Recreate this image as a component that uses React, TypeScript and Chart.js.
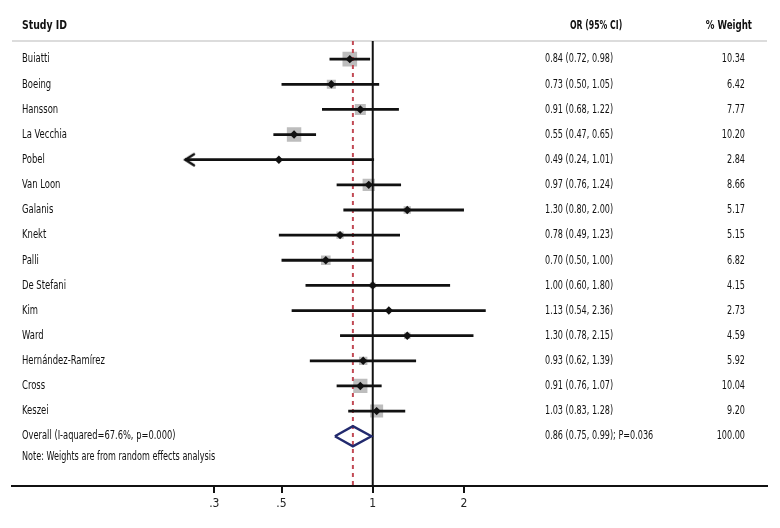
import React, { useEffect, useRef } from "react";
import { Chart, registerables } from "chart.js";

Chart.register(...registerables);

const studies = ["Buiatti", "Boeing", "Hansson", "La Vecchia", "Pobel", "Van Loon", "Galanis", "Knekt", "Palli", "De Stefani", "Kim", "Ward", "Hernández-Ramírez", "Cross", "Keszei"];
const orValues = [0.84, 0.73, 0.91, 0.55, 0.49, 0.97, 1.3, 0.78, 0.7, 1.0, 1.13, 1.3, 0.93, 0.91, 1.03];
const ciLow = [0.72, 0.5, 0.68, 0.47, 0.24, 0.76, 0.8, 0.49, 0.5, 0.6, 0.54, 0.78, 0.62, 0.76, 0.83];
const ciHigh = [0.98, 1.05, 1.22, 0.65, 1.01, 1.24, 2.0, 1.23, 1.0, 1.8, 2.36, 2.15, 1.39, 1.07, 1.28];
const weights = [10.34, 6.42, 7.77, 10.2, 2.84, 8.66, 5.17, 5.15, 6.82, 4.15, 2.73, 4.59, 5.92, 10.04, 9.2];

const overallLabel = "Overall (I-aquared=67.6%, p=0.000)";
const overallOR = 0.86;
const overallLow = 0.75;
const overallHigh = 0.99;
const overallP = "0.036";
const overallWeight = "100.00";
const noteText = "Note: Weights are from random effects analysis";

const headers = ["Study ID", "OR (95% CI)", "% Weight"];
const tickValues = [0.3, 0.5, 1, 2];
const tickLabels = [".3", ".5", "1", "2"];

const FONT_FAMILY = "'Liberation Sans Narrow', 'DejaVu Sans Condensed', 'Liberation Sans', sans-serif";

function makeArrow(): HTMLCanvasElement {
  const c = document.createElement("canvas");
  c.width = 22;
  c.height = 16;
  const g = c.getContext("2d")!;
  g.strokeStyle = "#111";
  g.lineWidth = 2.6;
  g.lineCap = "round";
  g.lineJoin = "miter";
  g.beginPath();
  g.moveTo(20, 2.5);
  g.lineTo(11.5, 8);
  g.lineTo(20, 13.5);
  g.stroke();
  return c;
}

function drawText(ctx: CanvasRenderingContext2D, text: string, x: number, y: number, align: CanvasTextAlign, bold: boolean, sx: number) {
  ctx.save();
  ctx.translate(x, y);
  ctx.scale(sx, 1);
  ctx.font = `${bold ? "bold " : ""}12.5px ${FONT_FAMILY}`;
  ctx.fillStyle = "#111";
  ctx.textAlign = align;
  ctx.textBaseline = "middle";
  ctx.fillText(text, 0, 0);
  ctx.restore();
}

export default function App() {
  const ref = useRef<HTMLCanvasElement | null>(null);

  useEffect(() => {
    if (!ref.current) return;
    const n = studies.length;
    const overallRow = n;
    const headerRow = -1.33;
    const headerLineRow = -0.72;
    const noteRow = n + 0.8;
    const yMin = -1.942;
    const yMax = 16.98;
    const arrowImg = makeArrow();
    const minTick = Math.min(...tickValues);

    const ciData: any[] = [];
    studies.forEach((_, i) => {
      ciData.push({ x: ciLow[i], y: i });
      ciData.push({ x: ciHigh[i], y: i });
      ciData.push({ x: null, y: null });
    });
    const arrowData = studies
      .map((_, i) => ({ x: ciLow[i], y: i }))
      .filter((p) => p.x < minTick);
    const pointData = studies.map((_, i) => ({ x: orValues[i], y: i }));
    const dh = 0.4;
    const diamond = [
      { x: overallLow, y: overallRow },
      { x: overallOR, y: overallRow - dh },
      { x: overallHigh, y: overallRow },
      { x: overallOR, y: overallRow + dh },
      { x: overallLow, y: overallRow },
    ];

    const textPlugin = {
      id: "forestText",
      beforeDatasetsDraw(chart: any) {
        const ctx = chart.ctx as CanvasRenderingContext2D;
        const ys = chart.scales.y;
        const area = chart.chartArea;
        const hy = ys.getPixelForValue(headerLineRow);
        ctx.save();
        ctx.strokeStyle = "#d0d0d0";
        ctx.lineWidth = 1.5;
        ctx.beginPath();
        ctx.moveTo(area.left, hy);
        ctx.lineTo(area.right, hy);
        ctx.stroke();
        ctx.restore();
      },
      afterDraw(chart: any) {
        const ctx = chart.ctx as CanvasRenderingContext2D;
        const ys = chart.scales.y;
        const hY = ys.getPixelForValue(headerRow);
        drawText(ctx, headers[0], 22, hY, "left", true, 0.83);
        drawText(ctx, headers[1], 570, hY, "left", true, 0.69);
        drawText(ctx, headers[2], 752, hY, "right", true, 0.77);
        studies.forEach((s, i) => {
          const y = ys.getPixelForValue(i);
          drawText(ctx, s, 22, y, "left", false, 0.75);
          drawText(ctx, `${orValues[i].toFixed(2)} (${ciLow[i].toFixed(2)}, ${ciHigh[i].toFixed(2)})`, 545, y, "left", false, 0.72);
          drawText(ctx, weights[i].toFixed(2), 745, y, "right", false, 0.72);
        });
        const oy = ys.getPixelForValue(overallRow);
        drawText(ctx, overallLabel, 22, oy, "left", false, 0.74);
        drawText(ctx, `${overallOR.toFixed(2)} (${overallLow.toFixed(2)}, ${overallHigh.toFixed(2)}); P=${overallP}`, 545, oy, "left", false, 0.72);
        drawText(ctx, overallWeight, 745, oy, "right", false, 0.72);
        drawText(ctx, noteText, 22, ys.getPixelForValue(noteRow), "left", false, 0.72);
      },
    };

    const chart = new Chart(ref.current, {
      type: "scatter",
      data: {
        datasets: [
          {
            type: "scatter",
            label: "estimate",
            data: pointData,
            pointStyle: "rectRot",
            pointRadius: 4.2,
            backgroundColor: "#111",
            borderColor: "#111",
            borderWidth: 0,
            order: 0,
          } as any,
          {
            type: "scatter",
            label: "arrow",
            data: arrowData,
            pointStyle: arrowImg,
            order: 1,
          } as any,
          {
            type: "line",
            label: "ci",
            data: ciData,
            borderColor: "#111",
            borderWidth: 2.8,
            pointRadius: 0,
            spanGaps: false,
            fill: false,
            order: 1,
          } as any,
          {
            type: "line",
            label: "overall",
            data: diamond,
            borderColor: "#222a6e",
            borderWidth: 2.4,
            pointRadius: 0,
            fill: false,
            tension: 0,
            order: 1,
          } as any,
          {
            type: "line",
            label: "pooled",
            data: [{ x: overallOR, y: headerLineRow }, { x: overallOR, y: yMax }],
            borderColor: "#c24a55",
            borderWidth: 2,
            borderDash: [4, 4],
            pointRadius: 0,
            order: 2,
          } as any,
          {
            type: "line",
            label: "null",
            data: [{ x: 1, y: headerLineRow }, { x: 1, y: yMax }],
            borderColor: "#111",
            borderWidth: 2,
            pointRadius: 0,
            order: 2,
          } as any,
          {
            type: "scatter",
            label: "weight",
            data: pointData,
            pointStyle: "rect",
            pointRadius: (c: any) => weights[c.dataIndex] * 1.0,
            backgroundColor: "#bdbdbd",
            borderWidth: 0,
            order: 3,
          } as any,
        ],
      },
      options: {
        animation: false,
        responsive: false,
        maintainAspectRatio: false,
        layout: { padding: { left: 12, right: 13, top: 0, bottom: 0 } },
        plugins: { legend: { display: false }, tooltip: { enabled: false } },
        events: [],
        scales: {
          x: {
            type: "logarithmic",
            min: 0.0645,
            max: 20,
            afterBuildTicks: (scale: any) => {
              scale.ticks = tickValues.map((v) => ({ value: v }));
            },
            afterFit: (scale: any) => {
              scale.height = 42;
            },
            ticks: {
              callback: (_v: any, i: number) => tickLabels[i],
              autoSkip: false,
              maxRotation: 0,
              padding: 4,
              color: "#222",
              font: { size: 12, family: FONT_FAMILY },
            },
            grid: { drawOnChartArea: false, drawTicks: true, tickLength: 7, color: "#111", lineWidth: 2 },
            border: { display: true, color: "#111", width: 2 },
          },
          y: {
            type: "linear",
            reverse: true,
            min: yMin,
            max: yMax,
            display: false,
          },
        },
      } as any,
      plugins: [textPlugin],
    });
    return () => chart.destroy();
  }, []);

  return (
    <div style={{ position: "absolute", left: 0, top: 0, width: 780, height: 528, background: "#fff" }}>
      <canvas ref={ref} width={780} height={528} style={{ width: 780, height: 528, display: "block" }} />
    </div>
  );
}
